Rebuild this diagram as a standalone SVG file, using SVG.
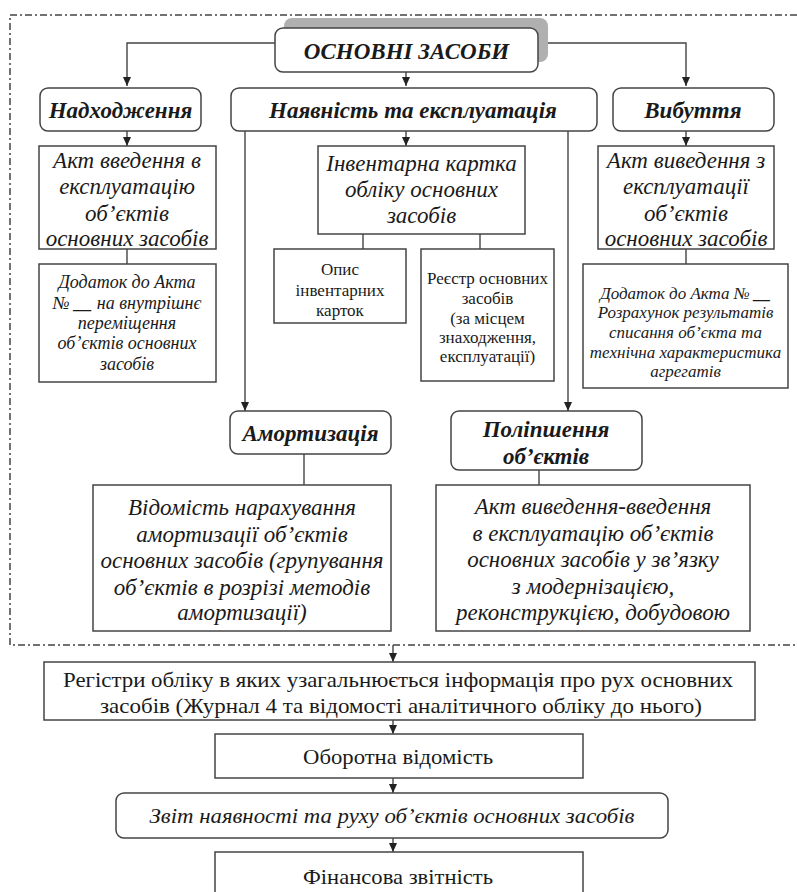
<svg xmlns="http://www.w3.org/2000/svg" width="797" height="892" viewBox="0 0 797 892">
<defs>
<marker id="ah" markerWidth="10" markerHeight="10" refX="9" refY="5" orient="auto" markerUnits="userSpaceOnUse">
<path d="M0,1 L9,5 L0,9 Z" fill="#222"/>
</marker>
<style>
.box{fill:#fff;stroke:#444;stroke-width:1.5}
.rbox{fill:#fff;stroke:#444;stroke-width:1.5}
.ln{fill:none;stroke:#444;stroke-width:1.4}
.t{font-family:"Liberation Serif","Times New Roman",serif;fill:#1a1a1a;text-anchor:middle}
.h{font-size:23px;font-weight:bold;font-style:italic}
.i{font-size:23px;font-style:italic}
.s{font-size:18px;font-style:italic}
.s2{font-size:17px;font-style:italic}
.r{font-size:17px}
.b{font-size:22px}
.bi{font-size:22px;font-style:italic}
</style>
</defs>
<path d="M797,15 H10 V645 H797" fill="none" stroke="#444" stroke-width="1.5" stroke-dasharray="7 3 2 3"/>
<g id="connectors">
<path class="ln" d="M275,43 H127 V86" marker-end="url(#ah)"/>
<path class="ln" d="M538,43 H686 V86" marker-end="url(#ah)"/>
<path class="ln" d="M406,72 V86" marker-end="url(#ah)"/>
<path class="ln" d="M127,131 V146" marker-end="url(#ah)"/>
<path class="ln" d="M406,131 V146" marker-end="url(#ah)"/>
<path class="ln" d="M686,131 V146" marker-end="url(#ah)"/>
<path class="ln" d="M127,249 V264"/>
<path class="ln" d="M686,249 V264"/>
<path class="ln" d="M363,234 V249"/>
<path class="ln" d="M480,234 V249"/>
<path class="ln" d="M245,131 V411" marker-end="url(#ah)"/>
<path class="ln" d="M568,131 V411" marker-end="url(#ah)"/>
<path class="ln" d="M304,454 V485"/>
<path class="ln" d="M539,470 V485"/>
<path class="ln" d="M393,645 V662" marker-end="url(#ah)"/>
<path class="ln" d="M393,720 V734" marker-end="url(#ah)"/>
<path class="ln" d="M393,778 V793" marker-end="url(#ah)"/>
<path class="ln" d="M393,838 V852" marker-end="url(#ah)"/>
</g>
<g id="title">
<rect x="284" y="18" width="264" height="44" rx="8" fill="#b0b0b0"/>
<rect class="rbox" x="275" y="28" width="263" height="44" rx="8"/>
<text class="t h" x="406.5" y="59" font-size="24">ОСНОВНІ ЗАСОБИ</text>
</g>
<g id="nadkhodzhennia">
<rect class="rbox" x="40" y="88" width="161" height="43" rx="8"/>
<text class="t h" x="120.5" y="118">Надходження</text>
</g>
<g id="naiavnist">
<rect class="rbox" x="231" y="88" width="366" height="43" rx="8"/>
<text class="t h" x="413" y="118">Наявність та експлуатація</text>
</g>
<g id="vybuttia">
<rect class="rbox" x="613" y="88" width="161" height="43" rx="8"/>
<text class="t h" x="693" y="118">Вибуття</text>
</g>
<g id="akt-vvedennia">
<rect class="box" x="39" y="146" width="177" height="103"/>
<text class="t i" x="127" y="168">Акт введення в</text>
<text class="t i" x="127" y="194">експлуатацію</text>
<text class="t i" x="127" y="221">об’єктів</text>
<text class="t i" x="127" y="246">основних засобів</text>
</g>
<g id="dodatok-vnutr">
<rect class="box" x="39" y="264" width="177" height="118"/>
<text class="t s" x="127" y="288">Додаток до Акта</text>
<text class="t s" x="127" y="309">№ <tspan font-weight="bold">__</tspan> на внутрішнє</text>
<text class="t s" x="127" y="329">переміщення</text>
<text class="t s" x="127" y="349">об’єктів основних</text>
<text class="t s" x="127" y="370">засобів</text>
</g>
<g id="inv-kartka">
<rect class="box" x="318" y="146" width="207" height="88"/>
<text class="t i" x="421.5" y="171">Інвентарна картка</text>
<text class="t i" x="421.5" y="197">обліку основних</text>
<text class="t i" x="421.5" y="223">засобів</text>
</g>
<g id="opys">
<rect class="box" x="274" y="249" width="132" height="74"/>
<text class="t r" x="340" y="275">Опис</text>
<text class="t r" x="340" y="296">інвентарних</text>
<text class="t r" x="340" y="316">карток</text>
</g>
<g id="reiestr">
<rect class="box" x="421" y="249" width="133" height="132"/>
<text class="t r" x="487.5" y="284">Реєстр основних</text>
<text class="t r" x="487.5" y="304">засобів</text>
<text class="t r" x="487.5" y="324">(за місцем</text>
<text class="t r" x="487.5" y="343">знаходження,</text>
<text class="t r" x="487.5" y="362">експлуатації)</text>
</g>
<g id="akt-vyvedennia">
<rect class="box" x="598" y="146" width="176" height="103"/>
<text class="t i" x="686" y="168">Акт виведення з</text>
<text class="t i" x="686" y="194">експлуатації</text>
<text class="t i" x="686" y="221">об’єктів</text>
<text class="t i" x="686" y="246">основних засобів</text>
</g>
<g id="dodatok-spysannia">
<rect class="box" x="583" y="264" width="205" height="124"/>
<text class="t s2" x="685.5" y="299">Додаток до Акта № <tspan font-weight="bold">__</tspan></text>
<text class="t s2" x="685.5" y="318">Розрахунок результатів</text>
<text class="t s2" x="685.5" y="338">списання об’єкта та</text>
<text class="t s2" x="685.5" y="358">технічна характеристика</text>
<text class="t s2" x="685.5" y="377">агрегатів</text>
</g>
<g id="amortyzatsiia">
<rect class="rbox" x="230" y="411" width="161" height="43" rx="8"/>
<text class="t h" x="310.5" y="441">Амортизація</text>
</g>
<g id="polipshennia">
<rect class="rbox" x="451" y="411" width="191" height="59" rx="8"/>
<text class="t h" x="546" y="437">Поліпшення</text>
<text class="t h" x="546" y="464">об’єктів</text>
</g>
<g id="vidomist-amort">
<rect class="box" x="93" y="485" width="298" height="146"/>
<text class="t i" x="242" y="515">Відомість нарахування</text>
<text class="t i" x="242" y="542">амортизації об’єктів</text>
<text class="t i" x="242" y="568">основних засобів (групування</text>
<text class="t i" x="242" y="595">об’єктів в розрізі методів</text>
<text class="t i" x="242" y="620">амортизації)</text>
</g>
<g id="akt-modern">
<rect class="box" x="436" y="485" width="314" height="146"/>
<text class="t i" x="593" y="514">Акт виведення-введення</text>
<text class="t i" x="593" y="541">в експлуатацію об’єктів</text>
<text class="t i" x="593" y="567">основних засобів у зв’язку</text>
<text class="t i" x="593" y="594">з модернізацією,</text>
<text class="t i" x="593" y="620">реконструкцією, добудовою</text>
</g>
<g id="rehistry">
<rect class="box" x="44" y="662" width="711" height="58"/>
<text class="t b" x="398" y="687" textLength="670" lengthAdjust="spacingAndGlyphs">Регістри обліку в яких узагальнюється інформація про рух основних</text>
<text class="t b" x="401" y="713" textLength="602" lengthAdjust="spacingAndGlyphs">засобів (Журнал 4 та відомості аналітичного обліку до нього)</text>
</g>
<g id="oborotna">
<rect class="box" x="215" y="734" width="368" height="44"/>
<text class="t b" x="398" y="764" textLength="190" lengthAdjust="spacingAndGlyphs">Оборотна відомість</text>
</g>
<g id="zvit">
<rect class="rbox" x="116" y="793" width="552" height="45" rx="8"/>
<text class="t bi" x="392" y="823" textLength="485" lengthAdjust="spacingAndGlyphs">Звіт наявності та руху об’єктів основних засобів</text>
</g>
<g id="finansova">
<rect class="box" x="215" y="852" width="368" height="50"/>
<text class="t b" x="398" y="884" textLength="190" lengthAdjust="spacingAndGlyphs">Фінансова звітність</text>
</g>
</svg>
